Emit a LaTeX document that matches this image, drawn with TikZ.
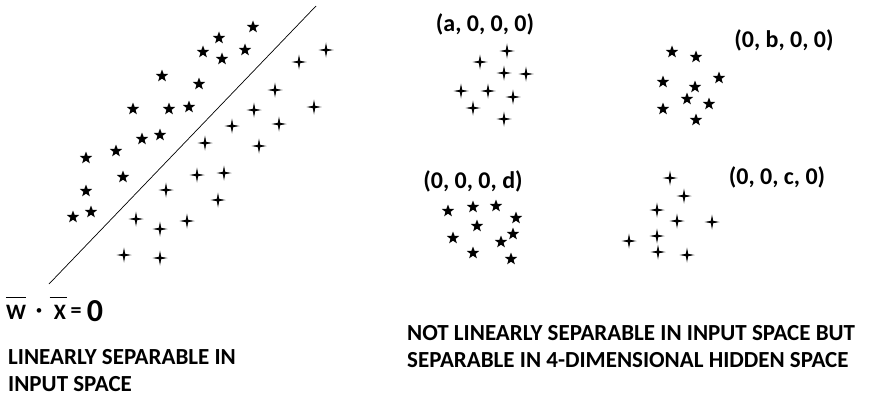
\documentclass[tikz,border=0pt]{standalone}
\usepackage{fontspec}
\setmainfont{Carlito}
\usepackage{tikz}
\usetikzlibrary{shapes.geometric}
\tikzset{
    star pt/.style={star, star points=5, star point ratio=2.4, fill=black, inner sep=0pt, minimum size=13pt},
    plus pt/.style={star, star points=4, star point ratio=4.5, fill=black, inner sep=0pt, minimum size=15pt},
    coord label/.style={font=\fontsize{24}{28}\selectfont\bfseries},
    caption/.style={font=\fontsize{23}{27}\selectfont\bfseries, align=left, inner sep=0pt}
}

\begin{document}
\begin{tikzpicture}[x=1pt,y=-1pt]

    \useasboundingbox (0,0) rectangle (882,396);

    % input space
    \coordinate (lowend) at (49,284);
    \coordinate (highend) at (316,6);
    \draw[line width=0.7pt] (lowend) -- (highend);

    \foreach \p [count=\i] in {(253,27),(219,38),(203,52),(222,59),(245,50),(162,76),
        (199,84),(133,109),(169,109),(189,107),(142,139),(160,135),(116,151),
        (86,158),(123,177),(86,191),(73,217),(91,212)}
        \node[star pt] (ls\i) at \p {};

    \foreach \p [count=\i] in {(326,50),(299,62),(275,90),(254,110),(314,107),(232,126),
        (279,124),(205,143),(259,146),(197,175),(224,173),(166,190),(218,200),
        (136,219),(187,221),(160,229),(124,255),(160,258)}
        \node[plus pt] (lp\i) at \p {};

    % equation of the line
    \begin{scope}[font=\fontsize{22}{26}\selectfont\bfseries]
        \node[inner sep=0pt] (wv) at (16,312) {W};
        \node[inner sep=0pt, font=\fontsize{13}{15}\selectfont] (dot) at (39,312) {\textbullet};
        \node[inner sep=0pt] (xv) at (60,312) {X};
        \node[inner sep=0pt] (eq) at (76,313) {=};
        \node[inner sep=0pt, font=\fontsize{32}{36}\selectfont\bfseries] (zero) at (95,311) {0};
    \end{scope}
    \draw[line width=1pt] ([yshift=7pt]wv.north west) -- ([yshift=7pt]wv.north east);
    \draw[line width=1pt] ([xshift=-4pt,yshift=7pt]xv.north west) -- ([xshift=1pt,yshift=7pt]xv.north east);

    \node[caption, anchor=north west] (leftcap) at (8,349) {LINEARLY SEPARABLE IN\\INPUT SPACE};

    % hidden space
    \node[coord label] (la) at (485,24) {(a, 0, 0, 0)};
    \node[coord label] (lb) at (784,40) {(0, b, 0, 0)};
    \node[coord label] (ld) at (473,181) {(0, 0, 0, d)};
    \node[coord label] (lc) at (777,177) {(0, 0, c, 0)};

    \foreach \p [count=\i] in {(507,51),(480,62),(504,73),(526,74),(461,91),
        (488,91),(513,97),(473,108),(504,119)}
        \node[plus pt] (ap\i) at \p {};
    \foreach \p [count=\i] in {(672,52),(696,57),(719,78),(663,82),(695,87),
        (687,99),(709,104),(663,109),(696,120)}
        \node[star pt] (bs\i) at \p {};
    \foreach \p [count=\i] in {(448,211),(473,207),(496,206),(516,218),(477,226),
        (453,238),(513,234),(501,242),(473,253),(511,259)}
        \node[star pt] (ds\i) at \p {};
    \foreach \p [count=\i] in {(670,178),(684,196),(657,210),(677,221),(712,222),
        (629,241),(657,236),(658,252),(687,255)}
        \node[plus pt] (cp\i) at \p {};

    \node[caption, anchor=north west] (rightcap) at (407,325)
        {NOT LINEARLY SEPARABLE IN INPUT SPACE BUT\\SEPARABLE IN 4-DIMENSIONAL HIDDEN SPACE};

\end{tikzpicture}
\end{document}
